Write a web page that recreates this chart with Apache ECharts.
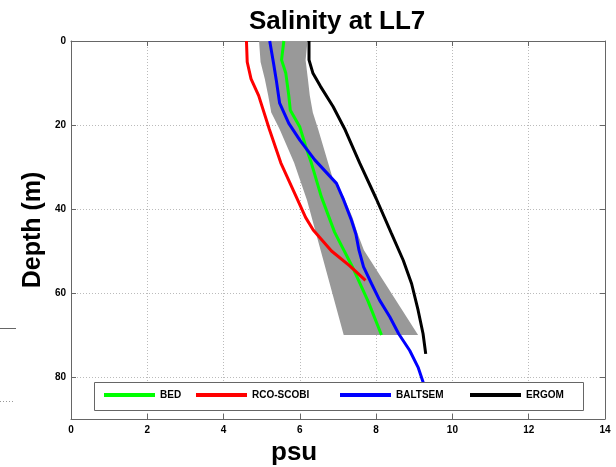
<!DOCTYPE html>
<html><head><meta charset="utf-8">
<script src="https://cdn.jsdelivr.net/npm/echarts@6/dist/echarts.min.js"></script>
<style>html,body{margin:0;padding:0;background:#fff}#c{width:616px;height:467px}</style>
</head><body><div id="c"></div>
<script>
// Tick labels
const xTickLabels = [0, 2, 4, 6, 8, 10, 12, 14];
const yTickLabels = [0, 20, 40, 60, 80];
const xRange = [0, 14];
const yRange = [0, 90];

// Series (salinity psu vs depth m)
const bedDepth = [0, 4.5, 7.6, 13, 16.5, 20.5, 25, 29, 37, 45.5, 54, 62, 70];
const bedPsu   = [5.58, 5.52, 5.63, 5.71, 5.75, 6.0, 6.15, 6.3, 6.56, 6.91, 7.39, 7.79, 8.14];

const rcoDepth = [0, 5, 9, 13, 21, 29, 37, 42, 45, 50, 53.5, 57];
const rcoPsu   = [4.6, 4.62, 4.72, 4.92, 5.2, 5.5, 5.9, 6.15, 6.35, 6.83, 7.3, 7.72];

const baltDepth = [0, 5.3, 9.2, 14.8, 19.6, 23.6, 28.3, 33.9, 37.9, 42.6, 46, 49.8, 53.8, 57.8, 61.7, 65.7, 69.7, 73.7, 77.7, 81.2, 84];
const baltPsu   = [5.21, 5.31, 5.38, 5.47, 5.71, 6.0, 6.39, 6.96, 7.15, 7.35, 7.47, 7.55, 7.67, 7.88, 8.09, 8.36, 8.59, 8.88, 9.1, 9.23, 9.3];

const ergomDepth = [0, 4.5, 7.6, 10.8, 15.6, 21.2, 29.1, 37.5, 45.8, 52.2, 57.8, 64.1, 69.7, 74.5];
const ergomPsu   = [6.24, 6.24, 6.34, 6.54, 6.87, 7.19, 7.57, 8.0, 8.4, 8.71, 8.93, 9.1, 9.23, 9.3];

// Gray spread band
const bandLeftDepth  = [0, 5, 9, 13, 17, 21, 29, 33, 38, 46, 70];
const bandLeftPsu    = [4.93, 4.97, 5.08, 5.17, 5.25, 5.47, 5.85, 6.0, 6.19, 6.43, 7.15];
const bandRightDepth = [0, 4.5, 9, 13, 17, 21, 25, 29, 33, 37, 42, 46, 49.8, 70];
const bandRightPsu   = [6.2, 6.15, 6.21, 6.26, 6.34, 6.48, 6.61, 6.74, 6.87, 7.15, 7.38, 7.52, 7.68, 9.1];

const names = ['BED', 'RCO-SCOBI', 'BALTSEM', 'ERGOM'];
const colors = ['#00ff00', '#ff0000', '#0000ff', '#000000'];

const pairs = (xs, ds) => xs.map((v, i) => [v, ds[i]]);

const chart = echarts.init(document.getElementById('c'), null, {renderer: 'canvas'});
const FF = '"Liberation Sans", Arial, sans-serif';
function axisBase() {
  return {
    type: 'value',
    axisLine: {show: true, onZero: false, lineStyle: {color: '#666', width: 1}},
    axisTick: {show: true, inside: true, length: 5, lineStyle: {color: '#666', width: 1}}
  };
}
const lbl = {color: '#000', fontWeight: 'bold', fontSize: 10, fontFamily: FF, margin: 6};
const grid = {show: true, lineStyle: {color: '#bbb', type: [1, 2], width: 1}};

const lineSeries = [
  [bedPsu, bedDepth], [rcoPsu, rcoDepth], [baltPsu, baltDepth], [ergomPsu, ergomDepth]
].map((p, i) => ({
  name: names[i], type: 'line', data: pairs(p[0], p[1]),
  showSymbol: false, symbol: 'none', smooth: false, z: 3,
  lineStyle: {color: colors[i], width: 3}, itemStyle: {color: colors[i]}
}));

const legendLeft = [104, 196, 340, 470];

chart.setOption({
  animation: false,
  backgroundColor: '#fff',
  title: [
    {text: 'Salinity at LL7', left: 249, top: 9, padding: 0,
     textStyle: {fontSize: 26, fontWeight: 'bold', fontFamily: FF, color: '#000'}},
    {text: 'psu', left: 271, top: 440, padding: 0,
     textStyle: {fontSize: 26, fontWeight: 'bold', fontFamily: FF, color: '#000'}}
  ],
  grid: {left: 71, right: 11, top: 41, bottom: 48, containLabel: false},
  xAxis: [
    Object.assign(axisBase(), {position: 'bottom', min: xRange[0], max: xRange[1], interval: 2,
      axisLabel: Object.assign({}, lbl, {formatter: v => xTickLabels.includes(v) ? String(v) : ''}),
      splitLine: grid}),
    Object.assign(axisBase(), {position: 'top', min: xRange[0], max: xRange[1], interval: 2,
      axisLabel: {show: false}, splitLine: {show: false}})
  ],
  yAxis: [
    Object.assign(axisBase(), {position: 'left', inverse: true, min: yRange[0], max: yRange[1], interval: 20,
      name: 'Depth (m)', nameLocation: 'middle', nameGap: 25, nameMoveOverlap: false,
      nameTextStyle: {fontSize: 25, fontWeight: 'bold', fontFamily: FF, color: '#000'},
      axisLabel: Object.assign({}, lbl, {margin: 5, showMaxLabel: false,
        formatter: v => yTickLabels.includes(v) ? String(v) : ''}),
      splitLine: grid}),
    Object.assign(axisBase(), {position: 'right', inverse: true, min: yRange[0], max: yRange[1], interval: 20,
      axisLabel: {show: false}, splitLine: {show: false}})
  ],
  legend: names.map((n, i) => ({
    data: [n], left: legendLeft[i], top: 390, padding: 0, z: 6,
    icon: 'rect', itemWidth: 51, itemHeight: 4,
    textStyle: {fontSize: 10, fontWeight: 'bold', fontFamily: FF, color: '#000'}
  })),
  graphic: [
    {type: 'rect', z: 5, shape: {x: 94.5, y: 382.5, width: 489, height: 28},
     style: {fill: '#fff', stroke: '#666', lineWidth: 1}},
    {type: 'line', z: 5, shape: {x1: 0, y1: 328.5, x2: 16, y2: 328.5}, style: {stroke: '#666', lineWidth: 1}},
    {type: 'line', z: 5, shape: {x1: 0, y1: 401.5, x2: 15, y2: 401.5}, style: {stroke: '#999', lineWidth: 1, lineDash: [1, 2]}}
  ],
  series: [
    {
      type: 'custom', name: 'spread', z: 2, silent: true,
      data: [[bandLeftPsu[0], bandLeftDepth[0]]],
      renderItem: function (params, api) {
        const pts = [];
        for (let i = 0; i < bandLeftPsu.length; i++) pts.push(api.coord([bandLeftPsu[i], bandLeftDepth[i]]));
        for (let i = bandRightPsu.length - 1; i >= 0; i--) pts.push(api.coord([bandRightPsu[i], bandRightDepth[i]]));
        return {type: 'polygon', shape: {points: pts}, style: {fill: '#999999', stroke: null}};
      }
    }
  ].concat(lineSeries)
});
</script></body></html>
